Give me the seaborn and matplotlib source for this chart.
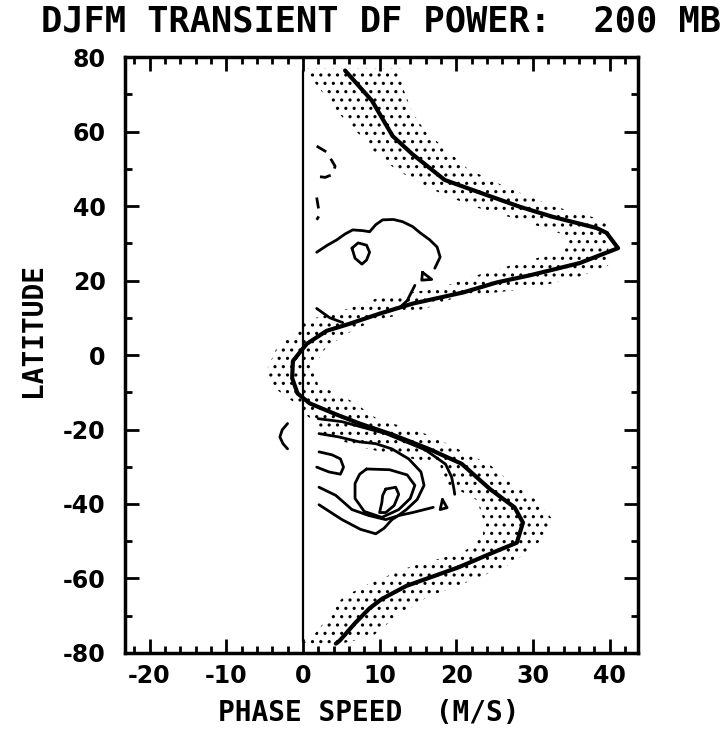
import numpy as np
import matplotlib
matplotlib.use("Agg")
import matplotlib.pyplot as plt
from matplotlib.ticker import MultipleLocator
import seaborn as sns

# zonal-mean wind profile (phase speed m/s, latitude)
wind_lat = [76.4, 68.3, 58.8, 53.9, 47.0, 43.6, 39.8, 37.1, 34.1, 32.8, 28.7,
            24.7, 21.4, 19.5, 16.8, 13.8, 11.1, 8.4, 6.5, 3.0, -1.6, -6.2,
            -10.3, -13.0, -16.0, -18.4, -21.4, -25.2, -29.2, -36.0, -40.9,
            -45.0, -50.4, -52.6, -57.0, -62.0, -65.5, -68.0, -72.0, -76.7, -77.5]
wind_u = [5.5, 9.0, 11.7, 14.3, 18.5, 23.1, 28.3, 32.6, 38.3, 39.6, 41.1,
          36.1, 29.6, 25.3, 20.9, 14.3, 10.0, 6.1, 3.1, 0.5, -1.3, -1.4,
          -0.7, 0.9, 4.4, 7.4, 11.7, 16.4, 20.7, 24.4, 27.6,
          28.7, 27.9, 25.3, 20.3, 13.5, 10.3, 8.7, 6.8, 4.8, 4.3]

# stippled band around the wind profile
band_lat = [77, 72, 65, 60, 55, 50, 45, 40, 36, 32, 28, 24, 21, 18, 15.5, 12.5,
            9, 6, 2, -3.5, -8, -12.5, -17, -21.5, -25, -29.5, -34, -39, -44,
            -48.5, -53, -56.6, -61, -65, -71, -75.5, -77.5]
band_lo = [0, 2, 4.6, 7, 9.1, 12, 16.2, 22, 28.7, 34.5, 34, 27, 22, 17.9, 10, 6,
           0, -1, -3.4, -4.6, -4.3, -1.3, 0.9, 2.6, 8, 17.9, 18.3, 22.7, 23.5,
           23.5, 20.9, 14.3, 9, 5.2, 3.1, 1.3, 0]
band_hi = [12.8, 13, 14.3, 16, 18.8, 21.5, 26.6, 32.6, 39.6, 40, 39.8, 39.8, 36,
           30, 20, 16, 9, 6, 3, 1.3, 2, 6.5, 9.6, 16.5, 20, 24.4, 27, 30.5, 32.5,
           31.8, 29.2, 26.6, 21.4, 16.2, 11.7, 9.1, 5]

# power contours: (phase speed, latitude)
nh_outer = [(1.8, 27.6), (3.2, 29.5), (4.4, 30.9), (5.5, 32.5), (6.5, 33.6),
            (7.8, 33.4), (8.7, 33.1), (9.5, 35.0), (10.4, 36.3), (11.8, 36.4),
            (13.0, 35.8), (14.3, 34.5), (15.3, 32.8), (16.5, 31.0), (17.5, 29.0),
            (17.9, 26.3), (17.2, 23.3)]
nh_lower = [(14.6, 18.7), (13.6, 14.6), (12.6, 12.7)]
nh_lower_left = [(1.8, 12.5), (3.5, 10.0), (5.2, 8.7)]
nh_core = [(6.4, 28.7), (7.2, 30.1), (8.3, 29.5), (8.7, 27.6), (8.3, 25.5),
           (7.7, 24.4), (6.8, 26.0), (6.4, 28.7)]
nh_tri = [(15.6, 22.2), (15.5, 20.1), (16.8, 20.3), (15.6, 22.2)]
nh_neg_a = [(1.8, 56.1), (3.1, 54.5), (4.2, 50.7), (3.9, 48.5), (2.9, 47.7), (1.8, 48.0)]
nh_neg_b = [(1.8, 42.3), (2.0, 39.8), (2.2, 37.7), (1.8, 36.3)]

sh_arc = [(-2.0, -18.4), (-2.7, -20.1), (-3.0, -22.0), (-2.6, -23.8), (-2.0, -25.2)]
sh_a = [(2.0, -17.1), (5.1, -17.9), (10.8, -21.1), (16.0, -25.5), (18.6, -29.3),
        (19.4, -32.8), (19.7, -36.0), (19.8, -37.4)]
sh_b = [(2.1, -21.1), (4.7, -22.0), (7.3, -23.3), (9.5, -23.8), (11.6, -25.2),
        (13.8, -27.9), (15.4, -31.4), (15.8, -35.0), (14.9, -38.8), (13.5, -41.5),
        (12.3, -43.3), (11.6, -44.2)]
sh_c = [(2.1, -26.0), (3.8, -26.8), (4.9, -27.9), (5.3, -30.1), (4.9, -32.0),
        (3.4, -31.4), (1.8, -30.1)]
sh_d = [(2.1, -35.5), (4.3, -37.7), (6.4, -41.5), (8.6, -43.1), (10.8, -44.2),
        (12.5, -43.1), (14.3, -42.3), (17.0, -40.9)]
sh_e = [(2.1, -40.2), (5.1, -44.2), (7.5, -46.8), (9.5, -48.0), (10.6, -46.5),
        (11.6, -44.2)]
sh_f = [(8.3, -30.6), (11.3, -30.8), (13.6, -32.2), (14.6, -35.0), (14.0, -38.5),
        (12.5, -41.5), (10.3, -43.6), (8.0, -42.0), (6.8, -38.5), (6.8, -34.5),
        (7.4, -32.0), (8.3, -30.6)]
sh_g = [(10.8, -36.0), (12.1, -35.5), (12.5, -37.4), (11.9, -40.4), (10.8, -42.3),
        (10.0, -42.3), (10.3, -39.6), (10.4, -37.7), (10.8, -36.0)]
sh_tri = [(18.2, -38.8), (17.9, -41.5), (18.8, -41.0), (18.2, -38.8)]

solid_contours = [nh_outer, nh_lower, nh_lower_left, nh_core, nh_tri,
                  sh_arc, sh_a, sh_b, sh_c, sh_d, sh_e, sh_f, sh_g, sh_tri]
dashed_contours = [nh_neg_a, nh_neg_b]

sns.set_style("ticks")
plt.rcParams["font.family"] = ["DejaVu Sans Mono", "DejaVu Sans"]
plt.rcParams["hatch.linewidth"] = 1.1
plt.rcParams["hatch.color"] = "black"
plt.rcParams["axes.unicode_minus"] = False
plt.rcParams["text.color"] = "black"

fig = plt.figure(figsize=(7.25, 7.32), dpi=100)
ax = fig.add_axes([0.1724, 0.108, 0.7076, 0.814])

# stippled band
ax.fill_betweenx(band_lat, band_lo, band_hi, facecolor="none", edgecolor="black",
                 hatch="..", linewidth=0)

# zero phase speed line
ax.vlines(0, -77, 76.5, color="black", lw=1.6)

for seg in solid_contours:
    u, la = zip(*seg)
    sns.lineplot(x=list(u), y=list(la), sort=False, estimator=None, color="black",
                 lw=2.0, ax=ax)
for seg in dashed_contours:
    u, la = zip(*seg)
    sns.lineplot(x=list(u), y=list(la), sort=False, estimator=None, color="black",
                 lw=2.0, linestyle=(0, (4, 3)), ax=ax)

sns.lineplot(x=wind_u, y=wind_lat, sort=False, estimator=None, color="black",
             lw=3.0, ax=ax)

ax.set_xlim(-23.2, 43.7)
ax.set_ylim(-80, 80)
ax.xaxis.set_major_locator(MultipleLocator(10))
ax.xaxis.set_minor_locator(MultipleLocator(2))
ax.yaxis.set_major_locator(MultipleLocator(20))
ax.yaxis.set_minor_locator(MultipleLocator(10))
ax.tick_params(which="both", direction="in", top=True, right=True, width=2,
               colors="black", labelcolor="black")
ax.tick_params(which="major", length=10)
ax.tick_params(which="minor", length=5)
ax.tick_params(axis="y", which="major", pad=14)
ax.tick_params(axis="x", which="major", pad=8)
for lab in ax.get_xticklabels() + ax.get_yticklabels():
    lab.set_fontfamily("DejaVu Sans")
    lab.set_fontweight("bold")
    lab.set_fontsize(17)
for s in ax.spines.values():
    s.set_linewidth(2.5)
    s.set_color("black")
    s.set_visible(True)
ax.set_xlabel("")
ax.set_ylabel("")

fig.text(0.526, 0.970, "DJFM TRANSIENT DF POWER:  200 MB", ha="center", va="center",
         fontsize=25.5, fontweight="bold", color="black")
fig.text(0.508, 0.026, "PHASE SPEED  (M/S)", ha="center", va="center", fontsize=20,
         fontweight="bold", color="black")
fig.text(0.0455, 0.549, "LATITUDE", ha="center", va="center", rotation=90, fontsize=20,
         fontweight="bold", color="black")

fig.savefig("out.png", dpi=100)
